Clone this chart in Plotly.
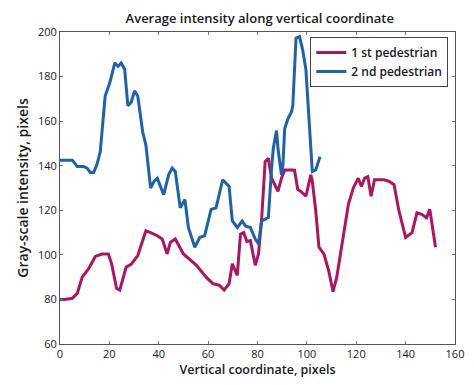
import plotly.graph_objects as go

# ---- data ----
ped1_x = [0, 1.7, 5, 7, 9, 11.6, 14.3, 17, 19.6, 20.9, 22.9, 24.2, 26.8, 28.8, 31.5,
          34.8, 36.7, 39.4, 41.4, 43.4, 44.7, 46.7, 50, 55.3, 59.2, 61.9, 64.5, 66.5,
          68.5, 69.8, 71.8, 73.1, 74.4, 75.7, 77.1, 79.1, 80.4, 81.7, 83.1, 84.4, 85.7,
          87.7, 88.3, 89.7, 91, 93.7, 95, 96.3, 97.6, 99.6, 100.2, 101.6, 102.2, 103.6,
          104.9, 106.9, 108.8, 110.6, 112.1, 114.8, 116.8, 118.8, 120.8, 122.1, 123.4,
          124.7, 126, 127.4, 129.4, 131.3, 133.3, 135.3, 137.3, 140, 142.6, 144.6, 146.5,
          148.5, 149.8, 151.2, 152.1]
ped1_y = [80, 80, 80.5, 82.7, 90, 93.8, 99.3, 100.4, 100.4, 96, 85, 84.2, 94.5, 95.7, 99.7,
          110.8, 110, 108.6, 107.1, 100.4, 105.6, 107.1, 100.4, 95.3, 90, 87.1, 86.4, 84.2,
          87.1, 96, 90.8, 109.3, 110, 106, 106.4, 95.3, 100.4, 116.7, 141.8, 143.3, 134.4,
          130, 128.5, 134.4, 138.1, 138.1, 138, 129.3, 128.5, 126.3, 129.3, 135.9, 133, 119.7,
          103.4, 100.4, 93, 83.5, 90, 107.8, 122.6, 130, 134.4, 130.7, 134.4,
          135.1, 126.3, 133.7, 133.7, 133.7, 133, 131.5, 119.7, 107.8, 110, 118.9, 118.2,
          116.7, 120.4, 110.8, 103.4]

ped2_x = [0, 5, 7, 9.6, 11, 12.3, 13.6, 14.9, 16.3, 17.6, 18.3, 20.2, 22.2, 23.5, 24.8,
          26.2, 27.5, 28.8, 30.2, 31.5, 33.5, 34.8, 36.7, 38.1, 39.4, 42, 44, 45.4, 46.7,
          48.7, 50.6, 52, 54.6, 56.6, 58.6, 61.2, 63.2, 65.9, 68.5, 69.8, 71.8, 73.8, 75.1,
          77.1, 79.1, 80.4, 81.7, 83.1, 84.4, 85.7, 86.4, 87.7, 88.3, 89.7, 90.3, 91, 92.3,
          93.7, 94.3, 95, 95.6, 97, 98.3, 99.6, 100.9, 102.2, 103.6, 104.2, 105.3]
ped2_y = [142.5, 142.5, 139.6, 139.6, 138.9, 137, 137, 140.3, 146.2, 161, 171.3, 177.3, 186.1,
          184.6, 186.1, 183.2, 166.9, 168.4, 173.6, 171.3, 155.1, 149.2, 130, 133, 134.4, 127,
          135.9, 138.9, 137.4, 121.1, 124.8, 112.3, 103.4, 107.8, 108.6, 120.4, 121.1, 133.7,
          130.7, 115.2, 112.3, 115.2, 113, 112.3, 107.1, 104.9, 115.2, 116, 116.7, 138.9,
          147.7, 155.8, 147.7, 135.9, 140.3, 156.6, 161, 164, 166.9, 183.2, 197.2, 197.9, 192,
          183.2, 162.5, 137.4, 138.1, 140.3, 144]

series_names = ["1 st pedestrian", "2 nd pedestrian"]
x_ticks = [0, 20, 40, 60, 80, 100, 120, 140, 160]
y_ticks = [60, 80, 100, 120, 140, 160, 180, 200]

FONT = "Open Sans"
TXT = "#1a1a1a"

fig = go.Figure()
fig.add_trace(go.Scatter(x=ped1_x, y=ped1_y, mode="lines", name=series_names[0],
                         line=dict(color="#b0145e", width=3)))
fig.add_trace(go.Scatter(x=ped2_x, y=ped2_y, mode="lines", name=series_names[1],
                         line=dict(color="#1c62ae", width=3)))

axis_common = dict(showgrid=False, zeroline=False, showline=True, linecolor="#555555",
                   linewidth=1, mirror="ticks", ticks="inside", ticklen=3,
                   tickcolor="#777777", tickfont=dict(family=FONT, size=11, color=TXT))

fig.update_layout(
    width=474, height=385,
    margin=dict(l=60, r=10, t=32, b=37),
    paper_bgcolor="white", plot_bgcolor="white",
    title=dict(text="Average intensity along vertical coordinate",
               font=dict(family=FONT, size=13, color=TXT, weight=600),
               x=0.548, xanchor="center", y=0.953, yanchor="middle"),
    xaxis=dict(range=[0, 160], tickvals=x_ticks, **axis_common,
               title=dict(text="Vertical coordinate, pixels", standoff=5,
                          font=dict(family=FONT, size=12.5, color=TXT, weight=600))),
    yaxis=dict(range=[60, 200], tickvals=y_ticks, **axis_common,
               title=dict(text="Gray-scale intensity, pixels", standoff=6,
                          font=dict(family=FONT, size=14, color=TXT, weight=600))),
    legend=dict(x=0.983, xanchor="right", y=0.984, yanchor="top",
                bgcolor="white", bordercolor="#444444", borderwidth=1,
                font=dict(family=FONT, size=12, color=TXT, weight=600),
                itemwidth=30, tracegroupgap=0),
    showlegend=True,
)

fig.write_html("out.html")
